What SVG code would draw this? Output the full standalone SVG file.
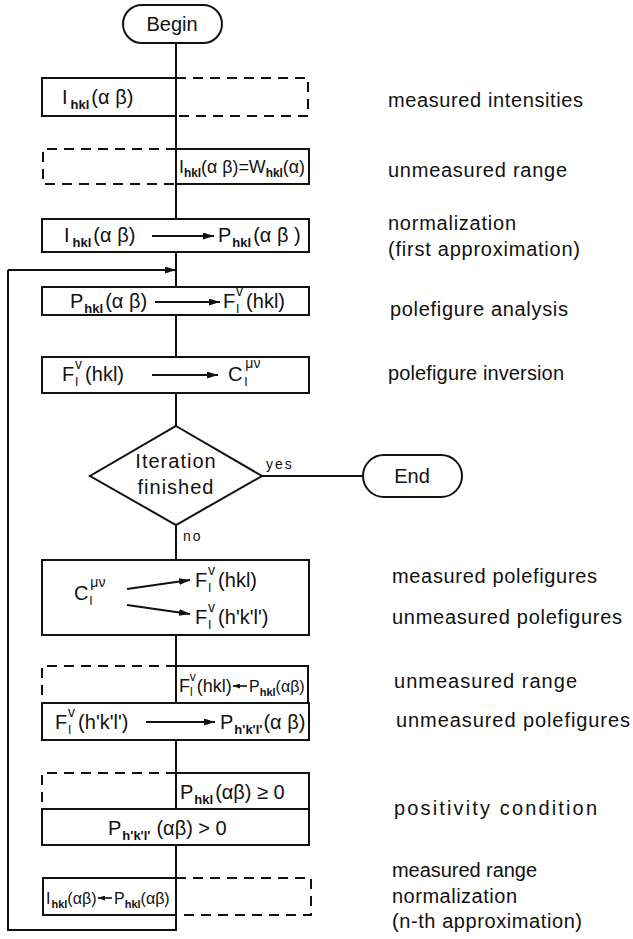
<svg xmlns="http://www.w3.org/2000/svg" width="633" height="939" viewBox="0 0 633 939">
<defs>
<style>
.ln{stroke:#111;stroke-width:2;fill:none}
.ln1{stroke:#111;stroke-width:1.6;fill:none}
.dash{stroke:#111;stroke-width:2;fill:none;stroke-dasharray:10 7}
.bx{stroke:#111;stroke-width:2;fill:#fff}
text{font-family:"Liberation Sans",Arial,sans-serif;fill:#111}
.t{font-size:20px}
.s{font-size:13px;font-weight:bold}
.sm{font-size:14px;letter-spacing:2px}
.lab{font-size:20px}
</style>
<marker id="ah" markerWidth="11" markerHeight="7" refX="11" refY="3.5" orient="auto" markerUnits="userSpaceOnUse">
<path d="M0,0 L11,3.5 L0,7 z" fill="#111"/>
</marker>
<marker id="ahs" markerWidth="7" markerHeight="5" refX="7" refY="2.5" orient="auto" markerUnits="userSpaceOnUse">
<path d="M0,0 L7,2.5 L0,5 z" fill="#111"/>
</marker>
</defs>
<rect width="633" height="939" fill="#fff"/>

<g id="connectors">
<path class="ln" d="M176,43 V78 M176,116 V149 M176,184 V219 M176,252 V287 M176,315 V357 M176,393 V426 M176,525 V560 M176,635 V666 M176,740 V773 M176,845 V878 M176,915 V930 H8 V270"/>
<path class="ln" d="M8,270 H176" marker-end="url(#ah)"/>
<path class="ln" d="M262,476 H363"/>
<text x="266" y="469" class="sm">yes</text>
<text x="183" y="541" class="sm">no</text>
</g>

<g id="begin">
<rect x="123" y="5" width="99" height="38" rx="19" class="bx"/>
<text x="172" y="31" class="t" text-anchor="middle">Begin</text>
</g>

<g id="box1">
<rect x="42" y="78" width="134" height="38" class="bx"/>
<path class="dash" d="M176,78 H308 V116 H176"/>
<text x="62" y="104" class="t">I<tspan class="s" dx="3" dy="5">hkl</tspan><tspan dx="2" dy="-5">(α β)</tspan></text>
</g>

<g id="box2">
<path class="dash" d="M176,149 H43 V184 H176"/>
<rect x="176" y="149" width="133" height="35" class="bx"/>
<text x="179" y="173" class="t" textLength="126" lengthAdjust="spacingAndGlyphs" style="font-size:18px">I<tspan class="s" style="font-size:12px" dy="4">hkl</tspan><tspan dy="-4">(α β)=W</tspan><tspan class="s" style="font-size:12px" dy="4">hkl</tspan><tspan dy="-4">(α)</tspan></text>
</g>

<g id="box3">
<rect x="42" y="219" width="267" height="33" class="bx"/>
<text x="64" y="242" class="t">I<tspan class="s" dx="3" dy="5">hkl</tspan><tspan dx="2" dy="-5">(α β)</tspan></text>
<path class="ln" d="M152,236 H214" marker-end="url(#ah)"/>
<text x="218" y="242" class="t">P<tspan class="s" dx="1" dy="5">hkl</tspan><tspan dx="2" dy="-5">(α β )</tspan></text>
</g>

<g id="box4">
<rect x="42" y="287" width="267" height="28" class="bx"/>
<text x="70" y="308" class="t">P<tspan class="s" dx="1" dy="5">hkl</tspan><tspan dx="2" dy="-5">(α β)</tspan></text>
<path class="ln" d="M155,302 H220" marker-end="url(#ah)"/>
<text x="223" y="308" class="t">F<tspan style="font-size:13px" dx="1" dy="5">l</tspan><tspan style="font-size:14px" dx="-3" dy="-17">v</tspan><tspan dx="3" dy="12">(hkl)</tspan></text>
</g>

<g id="box5">
<rect x="42" y="357" width="267" height="36" class="bx"/>
<text x="62" y="381" class="t">F<tspan style="font-size:13px" dx="1" dy="5">l</tspan><tspan style="font-size:14px" dx="-3" dy="-17">v</tspan><tspan dx="3" dy="12">(hkl)</tspan></text>
<path class="ln" d="M152,375 H218" marker-end="url(#ah)"/>
<text x="228" y="381" class="t">C<tspan style="font-size:13px" dx="2" dy="5">l</tspan><tspan style="font-size:14px" dx="-2" dy="-18">μν</tspan></text>
</g>

<g id="decision">
<polygon points="176,426 262,476 176,525 90,476" class="bx"/>
<text x="176" y="468" class="t" text-anchor="middle" letter-spacing="1">Iteration</text>
<text x="176" y="494" class="t" text-anchor="middle" letter-spacing="1">finished</text>
</g>

<g id="end">
<rect x="363" y="455" width="99" height="42" rx="21" class="bx"/>
<text x="412" y="483" class="t" text-anchor="middle">End</text>
</g>

<g id="box6">
<rect x="42" y="560" width="267" height="75" class="bx"/>
<text x="74" y="600" class="t">C<tspan style="font-size:13px" dx="1" dy="5">l</tspan><tspan style="font-size:14px" dx="-2" dy="-18">μν</tspan></text>
<path class="ln" d="M127,589 L190,580" marker-end="url(#ah)"/>
<path class="ln" d="M127,605 L190,614" marker-end="url(#ah)"/>
<text x="195" y="587" class="t">F<tspan style="font-size:13px" dx="1" dy="5">l</tspan><tspan style="font-size:14px" dx="-3" dy="-17">v</tspan><tspan dx="3" dy="12">(hkl)</tspan></text>
<text x="195" y="624" class="t">F<tspan style="font-size:13px" dx="1" dy="5">l</tspan><tspan style="font-size:14px" dx="-3" dy="-17">v</tspan><tspan dx="3" dy="12">(h'k'l')</tspan></text>
</g>

<g id="box7">
<path class="dash" d="M176,666 H42 V703"/>
<rect x="176" y="666" width="132" height="37" class="bx"/>
<text x="179" y="692" class="t" style="font-size:18px">F<tspan style="font-size:12px" dy="4">l</tspan><tspan style="font-size:12px" dx="-3" dy="-15">v</tspan><tspan dx="1" dy="11">(hkl)</tspan></text>
<path class="ln1" d="M247,686 H233" marker-end="url(#ahs)"/>
<text x="249" y="692" class="t" style="font-size:16px">P<tspan class="s" style="font-size:11px" dy="4">hkl</tspan><tspan dy="-4">(αβ)</tspan></text>
</g>

<g id="box8">
<rect x="42" y="703" width="267" height="37" class="bx"/>
<text x="55" y="729" class="t">F<tspan style="font-size:13px" dx="1" dy="5">l</tspan><tspan style="font-size:14px" dx="-3" dy="-17">v</tspan><tspan dx="3" dy="12">(h'k'l')</tspan></text>
<path class="ln" d="M146,722 H215" marker-end="url(#ah)"/>
<text x="220" y="729" class="t">P<tspan class="s" dx="1" dy="5">h'k'l'</tspan><tspan dx="1" dy="-5">(α β)</tspan></text>
</g>

<g id="box9">
<path class="dash" d="M176,773 H42 V809"/>
<rect x="176" y="773" width="133" height="36" class="bx"/>
<text x="180" y="799" class="t">P<tspan class="s" dx="1" dy="5">hkl</tspan><tspan dx="2" dy="-5">(αβ) ≥ 0</tspan></text>
</g>

<g id="box10">
<rect x="42" y="809" width="267" height="36" class="bx"/>
<text x="108" y="835" class="t">P<tspan class="s" dx="1" dy="5">h'k'l'</tspan><tspan dx="6" dy="-5">(αβ) &gt; 0</tspan></text>
</g>

<g id="box11">
<rect x="43" y="878" width="133" height="37" class="bx"/>
<path class="dash" d="M176,878 H311 V915 H176"/>
<text x="46" y="904" class="t" style="font-size:16px">I<tspan class="s" style="font-size:11px" dx="1" dy="4">hkl</tspan><tspan dy="-4">(αβ)</tspan></text>
<path class="ln1" d="M112,898 H98" marker-end="url(#ahs)"/>
<text x="114" y="904" class="t" style="font-size:16px">P<tspan class="s" style="font-size:11px" dy="4">hkl</tspan><tspan dy="-4">(αβ)</tspan></text>
</g>

<g id="labels">
<text x="388" y="107" class="lab" textLength="195">measured intensities</text>
<text x="388" y="177" class="lab" textLength="179">unmeasured range</text>
<text x="388" y="230" class="lab" textLength="128">normalization</text>
<text x="388" y="256" class="lab" textLength="192">(first approximation)</text>
<text x="390" y="316" class="lab" textLength="178">polefigure analysis</text>
<text x="388" y="380" class="lab" textLength="176">polefigure inversion</text>
<text x="392" y="583" class="lab" textLength="205">measured polefigures</text>
<text x="392" y="624" class="lab" textLength="230">unmeasured polefigures</text>
<text x="394" y="688" class="lab" textLength="183">unmeasured range</text>
<text x="396" y="727" class="lab" textLength="234">unmeasured polefigures</text>
<text x="394" y="815" class="lab" textLength="203">positivity condition</text>
<text x="392" y="877" class="lab" textLength="145">measured range</text>
<text x="392" y="903" class="lab" textLength="125">normalization</text>
<text x="392" y="928" class="lab" textLength="190">(n-th approximation)</text>
</g>
</svg>
